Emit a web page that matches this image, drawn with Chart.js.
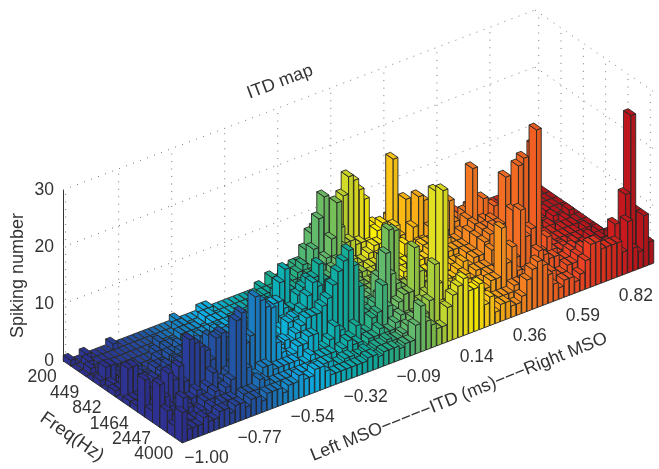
<!DOCTYPE html>
<html lang="en">
<head>
<meta charset="UTF-8">
<title>ITD map</title>
<script src="https://cdn.jsdelivr.net/npm/chart.js"></script>
<style>
  html, body { margin: 0; padding: 0; background: #fff; }
  canvas { display: block; }
</style>
</head>
<body>
<canvas id="itdChart" width="659" height="469"></canvas>
<script>
// tick labels
const itdLabels = ['\u22121.00', '\u22120.77', '\u22120.54', '\u22120.32', '\u22120.09', '0.14', '0.36', '0.59', '0.82'];
const itdTickBins = [0, 10, 20, 30, 40, 50, 60, 70, 80];
const freqLabels = ['200', '449', '842', '1464', '2447', '4000'];
const freqTickBins = [0, 3, 6, 9, 12, 15];
const spikeTicks = [0, 10, 20, 30];

// spiking number, one array per frequency bin (200 Hz first), 89 ITD bins each
const f00 = [1,0,0,1,0,0,0,0,1,0, 0,0,0,0,0,0,0,0,0,0, 1,0,0,0,0,1,1,0,0,0, 0,0,0,0,0,0,1,0,2,1, 1,2,2,1,1,1,1,1,1,1, 1,1,1,1,1,1,1,1,1,1, 1,1,1,1,1,1,1,1,1,0, 1,0,0,1,0,0,0,0,0,0, 0,0,0,0,0,0,0,0,0];
const f01 = [0,0,1,0,0,0,0,0,0,0, 0,0,0,0,0,0,0,0,0,1, 1,0,0,0,1,1,0,0,0,0, 0,0,0,0,0,1,1,1,2,3, 3,4,4,6,8.5,9,7,5,5,8, 13,16,15,13,11,5,6,5,4,6, 6,5,6,5,6,5,4,5,3,2, 1,1,1,0,1,0,0,1,0,0, 0,0,0,0,0,0,0,0,0];
const f02 = [0,1,0,0,0,0,0,0,0,0, 0,0,0,0,1,0,0,0,1,1, 1,1,0,0,1,1,1,0,0,0, 0,0,1,1,1,1,1,2,2,3, 4,5,4,7,12,15.5,10,13.5,9,6, 6,5,5,4,4,6,7,6,17.5,6, 7,7,6,5,7,6,6,5,3,2, 1,2,1,1,0,0,1,0,0,0, 0,0,0,0,1,0,0,0,0];
const f03 = [0,0,0,0,1,0,0,0,0,0, 0,0,1,0,1,1,1,0,1,1, 1,1,1,1,1,1,0,1,1,1, 1,1,2,1,1,1,2,2,3,2, 3,4,3,5,6,9,15,7,6,4, 3,3,4,5,5,4,6,7,5,11, 7,5,4,5,6,5,4,4,3,3, 2,1,1,1,1,0,0,0,0,1, 0,0,0,1,0,0,0,0,0];
const f04 = [1,3,3,1,0,0,0,1,0,0, 0,1,0,1,1,2,1,1,1,2, 1,1,2,2,1,1,2,1,2,1, 2,2,3,2,2,2,3,3,3,3, 3,5,4,4,5,6,4,3,3,3, 2,3,3,4,4,5,5,4,4,7, 12,11,6,5,6,5,4,6,4,3, 2,2,1,1,1,1,0,0,1,0, 0,0,0,0,1,0,0,0,0];
const f05 = [0,1,0,1,1,0,1,0,0,1, 1,1,0,1,2,2,1,2,1,1, 2,1,3,2,1,2,3,2,3,4, 3,4,6,3,3,3,4,4,5,3, 4,3,3,4,5,4,3,4,4,3, 3,2,3,3,4,4,6,5,4,5, 5,7,8,6,6,5,7,6,5,4, 3,3,2,1,2,1,1,0,1,1, 0,1,0,0,1,0,0,1,0];
const f06 = [1,1,2,2,1,1,1,1,0,1, 2,1,2,2,3,3,4,3,2,2, 3,2,3,3,2,3,2,3,4,6, 6,9,11,7,5,5,6,4,5,4, 4,3,3,3,4,5,4,3,3,2, 2,3,3,3,4,4,4,5,6,6, 6,5,7,12,8,6,9,9.5,6,5, 4,3,3,2,2,1,1,1,1,1, 1,0,1,0,0,1,0,0,0];
const f07 = [0,5.5,5.5,2,2,1,2,1,1,2, 2,3,3,2,3,4,5,3,4,4.5, 5,4.5,4,3,3,4,4,5,5,6, 5,5,5,7,8,9,9,11,8,6, 5,4,4,3,3,3,3,3,4,3, 3,2,3,4,3,4,5,5,6,6, 6,7,6,6,7,9,17.5,8,11.5,7, 9.5,5,4,3,2,2,1,1,2,1, 1,1,0,1,1,1,0,0,0];
const f08 = [1,1,1,1,1,1,2,2,1,2, 2,2,2,3,4,7,6.5,6.5,6,3, 3,2,2,2,3,4,5,8.5,8.5,7, 5,4,5,5,4,4,5,4,4,3, 4,4,3,3,3,3,3,3,3,3, 2,2,3,3,3,4,4,4,5,6, 6,6,6,6,8,9,8,9,6,5, 5,6,4,3,2,2,2,1,1,1, 1,1,1,1,1,0,1,0,0];
const f09 = [1,1,1,1,1,2,3,2,2,2, 3,3,4,6,5,4,3,2,2,2, 3,3,2,2,3,4,4,5,6,5, 6,7,9,11,10,8,4,7.5,4,3, 3,3,4,4,5,4,4,3,3,3, 3,3,2,3,3,3,4,5,4,5, 5,5,6,6,8,9,9,10,9,6, 6,5,4,4,3,3,2,2,2,1, 1,1,1,1,1,1,0,1,0];
const f10 = [6.5,5,1,1,1,2,2,3,5,5, 5,5,6,5,5,6,5,7,5,6, 5,5,3,3,3,4,4,7,7.5,6, 4,3,3,4,5,5,4,4,3,3, 4,4,5,5,9,12,16.5,16,6,5, 5,4,3,3,2,3,3,4,4,5, 6,5,6,6,8,9,10,10,18,16.5, 7,7,5,5,4,3,2,3,2,2, 1,2,1,1,2,1,1,0,1];
const f11 = [2,3,3,7.5,6,8,5,12,11,10, 9,7,10.5,11,10,7,6,8,9,8, 6,6,4,5,5,5.5,5,6,7,8, 8,8,9,10,12,14,15.5,17,14,10, 5,5,6,7,14,10,8,7,7,6, 5,5,5,4,3,4,4,3,4,5, 4,5,5,5,7.5,6,7,7,13,20.5, 21.5,15,23,7,6,4,3,3,3,2, 2,2,1,2,2,1,1,1,1];
const f12 = [7.5,5,3,2,3,3,3,4,3,4, 6,4,4,5,6,11.5,9,10,16.5,15.5, 14,13.5,7,5,3.5,4,5,5,6,6, 2.5,3,4,6,5,3,3,4.7,3,3, 5,5.6,10,6,5,6,7,7,14.5,10, 8,6,23,6,5,4,3,3,4,4, 4,4,5,5,5,5,6,6,14,9, 10,27,5.5,7.5,5,4,3,3,4,3, 2,2,2,2,2,2,3,2,1];
const f13 = [3.8,2,2,5,3,2,2,3,3,4, 3,4,5,15,16,6,4,4,5,5, 4,4,4,4,4,3,3,4,3,3, 3,3,2,3,4,3,3,2,3,3, 4,3,3,4,5,4,4,4,6,7, 8,8,24,7,6,5,4,4,4,4, 4,5,5,13.5,7,9.5,5,4,4,4, 7,6,5,5,4,4,5,4,3,3, 3,3,2,2,3,4,3,3,2];
const f14 = [2,3,2,2,2,3,2,3,2,3, 3,3,2,3,3,3,4.5,4,3,3, 3,3,3,3,3,3,2,3,3,3, 2,2,2.5,2.5,2,2,2.5,2,2.5,2.5, 3,2.5,2.5,3,4,5,5,5,7,13, 5,5,5,6,5,5,4,4,3,3, 3,3,3,3,4,4,4,4,3,3, 4,4,3,3,4,4,5,6,5,4, 4,4,5,8,5,12.5,26,9,4];
const f15 = [5.3,2,2,2,3,2,2,3,3,2, 3,3,2,3,3,2,3,3,3,2, 3,3,4,3,3,4,4,3,2,2, 2,2,2,2,2,2.5,2.5,2,2.5,2.5, 2.5,2,2.5,2.5,5,8,5,4,3,3, 6,7.8,9,10,7.5,7.5,8,4,5,2, 3,3,2,2,3,5.5,7,8,7,5, 3,2,3,3,2,3,5,7.5,7.5,6, 6,6,6,4,9,4,3,9,4];
const spikes = [f00, f01, f02, f03, f04, f05, f06, f07, f08, f09, f10, f11, f12, f13, f14, f15];

// colour along the ITD axis: [bin, colour]
const colourStops = [
  [0,'#2e3192'],[6,'#2b3a99'],[10,'#27479f'],[14,'#2159a8'],[17,'#1c75bc'],[21,'#1594d2'],[24,'#0fb0ec'],
  [27,'#0db2d8'],[31,'#0cb0b8'],[36,'#10ae9f'],[41,'#2fb07f'],[44,'#62bb6d'],[47,'#80c24f'],[50,'#c1d72f'],
  [53,'#f2e61a'],[55,'#fff200'],[57,'#ffd41a'],[59,'#fdb913'],[62,'#f9991d'],[66,'#f47721'],[70,'#f26522'],
  [76,'#ef4123'],[80,'#e0301e'],[84,'#c8191e'],[88,'#b2151b']
];

const nItd = f00.length;
const nFreq = spikes.length;
// how far the floor moves on screen
const freqRun = { x: 119, y: 82 };   // along the frequency axis
const itdRise = 180;                 // screen rise along the ITD axis
const barHalf = 0.45;                // half a bar across the ITD bin
const textColour = '#333333';
const fontFamily = '"Liberation Sans", Arial, sans-serif';

function hexRgb(h) {
  return [parseInt(h.slice(1, 3), 16), parseInt(h.slice(3, 5), 16), parseInt(h.slice(5, 7), 16)];
}

function binColour(i, shade) {
  let k = 0;
  while (k < colourStops.length - 2 && colourStops[k + 1][0] < i) k++;
  const a = colourStops[k], b = colourStops[k + 1];
  const t = (i - a[0]) / (b[0] - a[0]);
  const ca = hexRgb(a[1]), cb = hexRgb(b[1]);
  const rgb = ca.map((v, n) => Math.round((v + (cb[n] - v) * t) * shade));
  return 'rgb(' + rgb.join(',') + ')';
}

const bar3dPlugin = {
  id: 'bar3d',
  beforeDatasetsDraw(chart) {
    const ctx = chart.ctx;
    const xs = chart.scales.x;
    const ys = chart.scales.y;

    // itd and freq are in bins, freq edge 0 is the 200 Hz wall
    function project(itd, freq, z) {
      const px = xs.getPixelForValue(itd);
      const u = (px - xs.left) / xs.width;
      const v = freq / nFreq;
      return [px + v * freqRun.x, ys.getPixelForValue(z) - u * itdRise + v * freqRun.y];
    }

    function poly(pts, fill) {
      ctx.beginPath();
      pts.forEach((p, n) => (n ? ctx.lineTo(p[0], p[1]) : ctx.moveTo(p[0], p[1])));
      ctx.closePath();
      ctx.fillStyle = fill;
      ctx.fill();
      ctx.stroke();
    }

    function segment(a, b) {
      ctx.beginPath();
      ctx.moveTo(a[0], a[1]);
      ctx.lineTo(b[0], b[1]);
      ctx.stroke();
    }

    // dotted box walls
    ctx.save();
    ctx.strokeStyle = '#777777';
    ctx.lineWidth = 1;
    ctx.setLineDash([1, 6.5]);
    const endI = nItd - 0.5;
    spikeTicks.slice(1).forEach(z => {
      segment(project(-0.5, 0, z), project(endI, 0, z));
      segment(project(endI, 0, z), project(endI, nFreq, z));
    });
    itdTickBins.forEach(i => segment(project(i, 0, 0), project(i, 0, 30)));
    freqTickBins.forEach(j => segment(project(endI, j + 0.5, 0), project(endI, j + 0.5, 30)));
    ctx.restore();

    // bars, back to front
    ctx.save();
    ctx.strokeStyle = '#262626';
    ctx.lineWidth = 0.9;
    ctx.lineJoin = 'round';
    chart.data.datasets.forEach((ds, j) => {
      for (let n = ds.data.length - 1; n >= 0; n--) {
        const i = ds.data[n].x, z = ds.data[n].y;
        const l = i - barHalf, r = i + barHalf, b = j, f = j + 1;
        if (z > 0) {
          poly([project(l, b, 0), project(l, f, 0), project(l, f, z), project(l, b, z)], binColour(i, 1));
          poly([project(l, f, 0), project(r, f, 0), project(r, f, z), project(l, f, z)], binColour(i, 0.94));
        }
        poly([project(l, b, z), project(r, b, z), project(r, f, z), project(l, f, z)], binColour(i, 0.96));
      }
    });
    ctx.restore();

    // axis text
    function label(text, x, y, angle, size, align) {
      ctx.save();
      ctx.translate(x, y);
      ctx.rotate(angle * Math.PI / 180);
      ctx.font = size + 'px ' + fontFamily;
      ctx.fillStyle = textColour;
      ctx.textAlign = align || 'center';
      ctx.textBaseline = 'middle';
      ctx.fillText(text, 0, 0);
      ctx.restore();
    }

    itdLabels.forEach((t, k) => {
      const p = project(itdTickBins[k], nFreq, 0);
      label(t, p[0] + 44, p[1] + 16, 0, 17.5, 'right');
    });
    freqLabels.forEach((t, k) => {
      const p = project(-0.5, freqTickBins[k] + 0.5, 0);
      label(t, p[0] - 24.5, p[1] + 14, 0, 17.5);
    });
    label('ITD map', 280, 82, -20.7, 18);
    label('Freq(Hz)', 72, 437, 34.6, 18.5);
    label('Left MSO\u2212\u2212\u2212\u2212\u2212ITD (ms)\u2212\u2212\u2212Right MSO', 459, 397, -21.9, 18);
  }
};

const datasets = spikes.map((row, j) => ({
  label: 'bin ' + j,
  data: row.map((v, i) => ({ x: i, y: v })),
  pointRadius: 0,
  showLine: false
}));

new Chart(document.getElementById('itdChart'), {
  type: 'scatter',
  data: { datasets },
  plugins: [bar3dPlugin],
  options: {
    responsive: false,
    animation: false,
    layout: { padding: { top: 190, bottom: 108, right: 124, left: 0 } },
    plugins: { legend: { display: false }, tooltip: { enabled: false } },
    scales: {
      x: { type: 'linear', min: -0.5, max: nItd - 0.5, display: false },
      y: {
        type: 'linear',
        min: spikeTicks[0],
        max: spikeTicks[spikeTicks.length - 1],
        afterFit(s) { s.width = 63; },
        grid: { display: false, drawTicks: false },
        border: { display: true, color: '#333333', width: 1 },
        ticks: {
          stepSize: 10,
          padding: 9,
          color: textColour,
          font: { family: fontFamily, size: 17.5 }
        },
        title: {
          display: true,
          text: 'Spiking number',
          color: textColour,
          padding: { top: 7, bottom: 0 },
          font: { family: fontFamily, size: 18 }
        }
      }
    }
  }
});
</script>
</body>
</html>
